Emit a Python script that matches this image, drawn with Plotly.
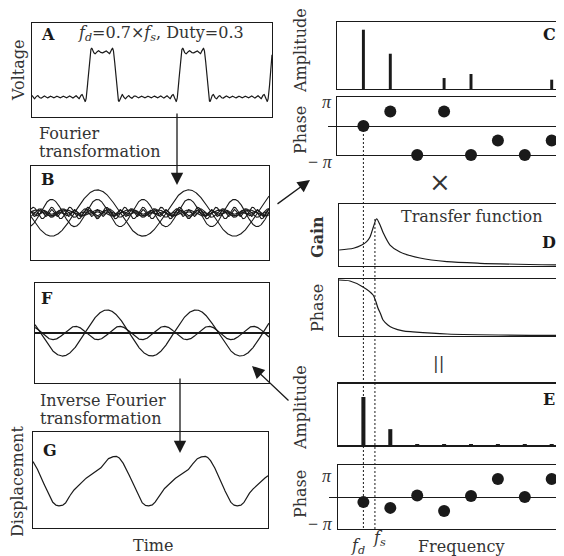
import numpy as np
import plotly.graph_objects as go

# the page adds an 8px body margin, so the figure is 8px smaller and all
# page-pixel positions below are shifted by that offset
OFF = 8
W, H = 564 - OFF, 556 - OFF
FONT = "DejaVu Serif"
INK = "#1a1a1a"
TXT = "#333"

# ---------------- data ----------------
duty_cycle = 0.3
drive_to_resonance = 0.7          # f_d = 0.7 x f_s

# Fourier coefficients of the rectangular drive pulse (panel A), harmonics 1..14
pulse_dc = 0.3
pulse_n = [1, 2, 3, 4, 5, 6, 7, 8, 9, 10, 11, 12, 13, 14]
pulse_coef = [0.515, 0.303, 0.066, -0.094, -0.127, -0.062, 0.028,
              0.076, 0.057, 0.0, -0.047, -0.050, -0.015, 0.027]

# harmonic components drawn in panel B
B_n = [1, 2, 3, 4, 5, 6, 7, 8]
B_coef = [0.515, 0.303, 0.066, -0.094, -0.127, -0.062, 0.028, 0.076]

# panel C: spectrum of the drive
C_n = [1, 2, 3, 4, 5, 6, 7, 8]
C_amplitude = [1.0, 0.595, 0.0, 0.185, 0.253, 0.0, 0.0, 0.157]
C_phase = [0.0, 0.5, -1.0, 0.5, -1.0, -0.5, -1.0, -0.5]        # units of pi

# panel D: transfer function (frequency in units of f_d)
D_gain_freq = [0.10, 0.63, 0.94, 1.12, 1.25, 1.37, 1.49, 1.62, 1.74,
               1.99, 2.36, 3.10, 4.10, 5.33, 8.42]
D_gain = [1.0, 1.11, 1.31, 1.52, 1.83, 2.44, 2.94, 2.56, 2.06,
          1.31, 0.875, 0.50, 0.27, 0.17, 0.06]
D_phase_freq = [0.09, 0.50, 0.985, 1.36, 1.47, 1.54, 1.64, 1.73, 1.91,
                2.10, 2.47, 2.84, 4.11, 8.42]
D_phase = [-3.2, -6.3, -25, -50.5, -72.6, -91.6, -110.5, -129.5, -145,
           -154.7, -164, -167, -173.7, -178.4]                   # degrees

# panel E: spectrum of the response
E_n = [1, 2, 3, 4, 5, 6, 7, 8]
E_amplitude = [1.0, 0.33, 0.02, 0.02, 0.02, 0.02, 0.02, 0.02]
E_phase = [-0.16, -0.34, 0.05, -0.44, 0.03, 0.56, 0.0, 0.56]    # units of pi

# panel F: response components (time domain), G = their sum
F_n = [1, 2, 3, 4, 5, 6, 7, 8]
F_amplitude = [1.0, 0.29, 0.012, 0.012, 0.012, 0.012, 0.012, 0.012]
F_phase = [0.0, -0.58, 0.05, -0.44, 0.03, 0.56, 0.0, 0.56]      # units of pi

# ---------------- helpers ----------------
def X(p):
    return (p - OFF) / W


def Y(p):
    return 1 - (p - OFF) / H


def fmap(p):  # page pixel -> frequency (units of f_d) for right column
    return (p - 336.5) / 26.9


def comp(t, n, a, ph=0.0):
    return a * np.cos(2 * np.pi * n * t + ph * np.pi)


panels = {
    1: dict(xd=(32, 272), yd=(23, 117), xr=(-0.769, 1.868), yr=(-0.444, 1.644), box=True),
    2: dict(xd=(31, 269), yd=(166, 260), xr=(-0.725, 1.879), yr=(-1.044, 1.044), box=True),
    3: dict(xd=(35, 269), yd=(283, 383), xr=(-0.809, 1.820), yr=(-2.17, 2.17), box=True),
    4: dict(xd=(33, 268), yd=(432, 528), xr=(-0.846, 1.794), yr=(-2.17, 2.17), box=True),
    5: dict(xd=(337, 564), yd=(22, 89), yr=(0, 1.13), box=False),
    6: dict(xd=(337, 564), yd=(97, 155), yr=(-1, 1), box=False, zero=True),
    7: dict(xd=(339, 564), yd=(204, 266), yr=(0, 3.875), box=False),
    8: dict(xd=(339, 564), yd=(279, 336), yr=(-180, 0), box=False),
    9: dict(xd=(338, 564), yd=(384, 445), yr=(0, 1.27), box=False, thick=True),
    10: dict(xd=(338, 564), yd=(465, 529), yr=(-1, 1), box=False, zero=True),
}

fig = go.Figure()
layout = dict(width=W, height=H, margin=dict(l=0, r=0, t=0, b=0),
              paper_bgcolor="white", plot_bgcolor="rgba(0,0,0,0)",
              showlegend=False, font=dict(family=FONT, color=INK, size=16))

for i, p in panels.items():
    s = "" if i == 1 else str(i)
    xr = p.get("xr", (fmap(p["xd"][0]), fmap(p["xd"][1])))
    xa = dict(domain=[max(0, X(p["xd"][0])), min(1, X(p["xd"][1]))], range=list(xr),
              anchor="y" + s, showgrid=False, zeroline=False, showticklabels=False, ticks="",
              showline=True, mirror=True, linecolor=INK,
              linewidth=1.6 if p.get("thick") else 1.3, fixedrange=True)
    ya = dict(domain=[Y(p["yd"][1]), Y(p["yd"][0])], range=list(p["yr"]), anchor="x" + s,
              showgrid=False, showticklabels=False, showline=True,
              mirror=True if p["box"] else False, linecolor=INK, linewidth=1.3,
              zeroline=False, fixedrange=True)
    if p.get("zero"):
        ya.update(zeroline=True, zerolinecolor=INK, zerolinewidth=1,
                  ticks="outside", tickvals=[0], ticklen=8, tickcolor=INK, tickwidth=1)
    else:
        ya.update(ticks="")
    layout["xaxis" + s] = xa
    layout["yaxis" + s] = ya

line_style = dict(color=INK, width=1.2)

# ---- A: drive voltage ----
tA = np.linspace(*panels[1]["xr"], 2400)
vA = pulse_dc + sum(comp(tA, n, a) for n, a in zip(pulse_n, pulse_coef))
fig.add_trace(go.Scatter(x=tA, y=vA, mode="lines", line=line_style, xaxis="x", yaxis="y"))

# ---- B: harmonic components ----
tB = np.linspace(*panels[2]["xr"], 1600)
for n, a in zip(B_n, B_coef):
    fig.add_trace(go.Scatter(x=tB, y=comp(tB, n, a), mode="lines", line=dict(color=INK, width=1.1),
                             xaxis="x2", yaxis="y2"))

# ---- F: response components ----
tF = np.linspace(*panels[3]["xr"], 1600)
for n, a, ph in zip(F_n, F_amplitude, F_phase):
    fig.add_trace(go.Scatter(x=tF, y=comp(tF, n, a, ph), mode="lines",
                             line=dict(color=INK, width=1.4 if n > 2 else 1.2),
                             xaxis="x3", yaxis="y3"))

# ---- G: displacement ----
tG = np.linspace(*panels[4]["xr"], 1600)
yG = sum(comp(tG, n, a, ph) for n, a, ph in zip(F_n, F_amplitude, F_phase))
fig.add_trace(go.Scatter(x=tG, y=yG, mode="lines", line=line_style, xaxis="x4", yaxis="y4"))

# ---- C: spectrum ----
fig.add_trace(go.Bar(x=C_n, y=C_amplitude, width=0.11, marker=dict(color=INK, line=dict(width=0)),
                     xaxis="x5", yaxis="y5"))
fig.add_trace(go.Scatter(x=C_n, y=C_phase, mode="markers", marker=dict(size=12, color=INK),
                         cliponaxis=False, xaxis="x6", yaxis="y6"))

# ---- D: transfer function ----
fig.add_trace(go.Scatter(x=D_gain_freq, y=D_gain, mode="lines",
                         line=dict(color=INK, width=1.2, shape="spline", smoothing=0.8),
                         xaxis="x7", yaxis="y7"))
fig.add_trace(go.Scatter(x=D_phase_freq, y=D_phase, mode="lines",
                         line=dict(color=INK, width=1.2, shape="spline", smoothing=0.8),
                         xaxis="x8", yaxis="y8"))

# ---- E: response spectrum ----
fig.add_trace(go.Bar(x=E_n, y=E_amplitude, width=0.15, marker=dict(color=INK, line=dict(width=0)),
                     xaxis="x9", yaxis="y9"))
fig.add_trace(go.Scatter(x=E_n, y=E_phase, mode="markers", marker=dict(size=12, color=INK),
                         cliponaxis=False, xaxis="x10", yaxis="y10"))

# ---- dashed frequency markers ----
f_d = 1.0
f_s = 1.0 / drive_to_resonance
layout["shapes"] = [
    dict(type="line", xref="x6", yref="paper", x0=f_d, x1=f_d, y0=Y(126), y1=Y(529),
         line=dict(color=INK, width=1, dash="2px,2px")),
    dict(type="line", xref="x6", yref="paper", x0=f_s, x1=f_s, y0=Y(219), y1=Y(529),
         line=dict(color=INK, width=1, dash="2px,2px")),
]

ann = []


def txt(x, y, s, size=16, angle=0, xanchor="center", color=TXT, family=FONT):
    ann.append(dict(x=X(x), y=Y(y), xref="paper", yref="paper", text=s, showarrow=False,
                    textangle=angle, xanchor=xanchor, yanchor="middle",
                    font=dict(family=family, size=size, color=color)))


def arrow(hx, hy, tx, ty):
    ann.append(dict(x=X(hx), y=Y(hy), xref="paper", yref="paper", text="",
                    ax=tx - hx, ay=ty - hy, axref="pixel", ayref="pixel",
                    showarrow=True, arrowhead=2, arrowsize=1.9, arrowwidth=1.3,
                    arrowcolor=INK, standoff=0, startstandoff=0))


# panel letters
for lab, x, y in [("A", 48, 35), ("B", 48, 180), ("F", 47, 298), ("G", 50, 450),
                  ("C", 549, 35), ("D", 549, 243), ("E", 549, 399)]:
    txt(x, y, "<b>%s</b>" % lab, size=16, color=INK)

txt(161, 33, "<i>f</i><sub><i>d</i></sub>=0.7×<i>f</i><sub><i>s</i></sub>, Duty=0.3", size=16)

txt(18, 70, "Voltage", angle=-90)
txt(37, 133, "Fourier", xanchor="left")
txt(37, 151, "transformation", xanchor="left")
txt(38, 400, "Inverse Fourier", xanchor="left")
txt(38, 418, "transformation", xanchor="left")
txt(17, 482, "Displacement", angle=-90)
txt(153, 545, "Time")

txt(300, 51, "Amplitude", angle=-90)
txt(300, 130, "Phase", angle=-90)
txt(327, 102, "<i>π</i>", size=18, family="Liberation Serif")
txt(320, 162, "− <i>π</i>", size=18, family="Liberation Serif")
txt(440, 182, "×", size=26)

txt(471, 216, "Transfer function")
txt(317, 237, "<b>Gain</b>", angle=-90)
txt(317, 308, "Phase", angle=-90)
txt(438, 363, "||", size=17)

txt(300, 408, "Amplitude", angle=-90)
txt(300, 494, "Phase", angle=-90)
txt(327, 476, "<i>π</i>", size=18, family="Liberation Serif")
txt(320, 524, "− <i>π</i>", size=18, family="Liberation Serif")

txt(358, 546, "<i>f</i><sub><i>d</i></sub>", size=16)
txt(379, 538, "<i>f</i><sub><i>s</i></sub>", size=16)
txt(461, 546, "Frequency")

arrow(177, 185, 177, 112)
arrow(310, 180, 276, 205)
arrow(252, 366, 290, 402)
arrow(180, 453, 180, 377)

layout["annotations"] = ann
fig.update_layout(**layout)
fig.write_html("out.html")
